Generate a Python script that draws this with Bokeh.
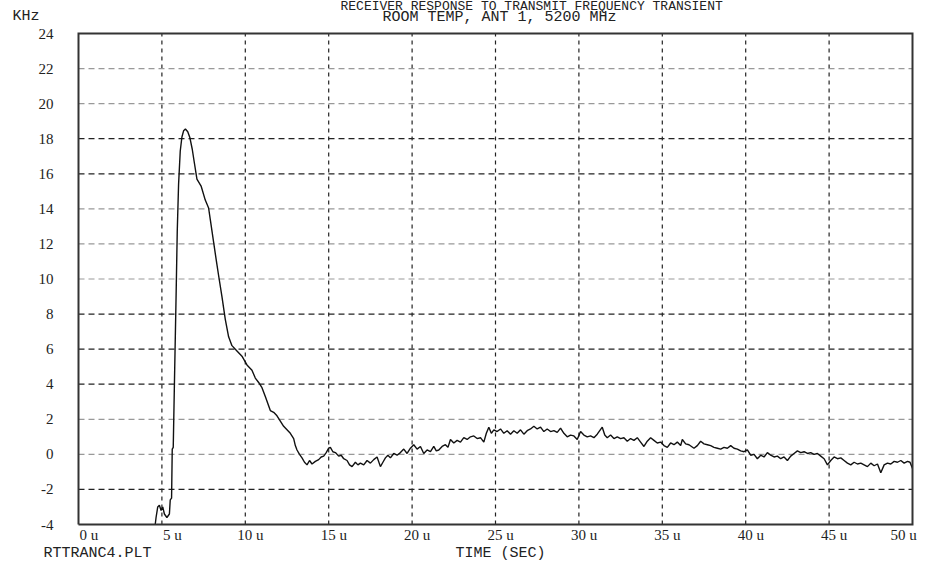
from bokeh.plotting import figure
from bokeh.models import Range1d, Label, LabelSet, ColumnDataSource
from bokeh.embed import file_html
from bokeh.resources import INLINE

# ---- data ----
time_us = [4.6, 4.65, 4.75, 4.85, 4.95, 5.05, 5.15, 5.3, 5.45, 5.5, 5.58, 5.62, 5.68, 5.75, 5.85,
           5.92, 6.0, 6.1, 6.2, 6.3, 6.41, 6.55, 6.68, 6.82, 6.95, 7.1, 7.35, 7.6, 7.8, 7.9, 8.1,
           8.27, 8.4, 8.6, 8.8, 9.0, 9.2, 9.5, 9.8, 10.1, 10.4, 10.6, 10.8, 11.0, 11.2, 11.35, 11.5,
           11.7, 11.9, 12.1, 12.3, 12.5, 12.7, 12.9, 13.0, 13.1, 13.25, 13.4, 13.55, 13.7, 13.85,
           14.0, 14.2, 14.4, 14.55, 14.7, 14.85, 15.0, 15.1, 15.25, 15.4, 15.6, 15.75, 15.9, 16.1,
           16.25, 16.4, 16.6, 16.75, 16.9, 17.1, 17.3, 17.5, 17.7, 17.9, 18.1, 18.25, 18.4, 18.55,
           18.7, 18.9, 19.1, 19.3, 19.5, 19.7, 19.9, 20.1, 20.3, 20.5, 20.7, 20.9, 21.1, 21.3, 21.45,
           21.6, 21.8, 22.0, 22.15, 22.3, 22.5, 22.7, 22.9, 23.1, 23.3, 23.5, 23.7, 23.9, 24.1, 24.3,
           24.45, 24.6, 24.75, 24.9, 25.1, 25.3, 25.5, 25.7, 25.9, 26.1, 26.3, 26.5, 26.7, 26.9,
           27.1, 27.3, 27.5, 27.7, 27.9, 28.1, 28.3, 28.5, 28.7, 28.9, 29.1, 29.3, 29.5, 29.7, 29.9,
           30.1, 30.3, 30.5, 30.7, 30.9, 31.1, 31.4, 31.55, 31.7, 31.9, 32.1, 32.3, 32.5, 32.7, 32.9,
           33.1, 33.3, 33.5, 33.7, 33.9, 34.1, 34.3, 34.5, 34.7, 34.9, 35.1, 35.3, 35.5, 35.7, 35.9,
           36.1, 36.2, 36.4, 36.6, 36.9, 37.1, 37.3, 37.5, 37.7, 37.9, 38.1, 38.3, 38.5, 38.7, 38.9,
           39.1, 39.3, 39.5, 39.7, 39.9, 40.1, 40.3, 40.5, 40.7, 40.9, 41.1, 41.3, 41.5, 41.7, 41.9,
           42.1, 42.3, 42.5, 42.7, 42.9, 43.1, 43.3, 43.5, 43.7, 43.9, 44.1, 44.3, 44.5, 44.7, 44.9,
           45.1, 45.3, 45.5, 45.7, 45.9, 46.1, 46.3, 46.5, 46.7, 46.9, 47.1, 47.3, 47.5, 47.7, 47.9,
           48.1, 48.3, 48.5, 48.7, 48.9, 49.1, 49.3, 49.5, 49.7, 49.85, 50.0]
khz = [-4.0, -3.6, -3.0, -2.9, -3.2, -3.0, -3.4, -3.6, -3.4, -2.6, -2.5, 0.3, 0.4, 4.0, 9.0,
       12.7, 15.4, 17.3, 18.1, 18.45, 18.55, 18.4, 18.05, 17.4, 16.6, 15.7, 15.3, 14.5, 14.05, 13.4, 12.1,
       11.0, 10.2, 9.0, 7.7, 6.7, 6.2, 5.9, 5.6, 5.1, 4.8, 4.35, 4.1, 3.8, 3.3, 2.9, 2.5,
       2.4, 2.2, 1.9, 1.6, 1.4, 1.2, 0.9, 0.5, 0.25, 0.0, -0.2, -0.45, -0.6, -0.35,
       -0.55, -0.4, -0.3, -0.15, -0.1, 0.1, 0.35, 0.4, 0.15, 0.1, -0.1, -0.05, -0.25, -0.35,
       -0.6, -0.7, -0.45, -0.6, -0.5, -0.6, -0.35, -0.5, -0.3, -0.15, -0.7, -0.45, -0.2, -0.05,
       -0.2, 0.05, -0.05, 0.1, 0.3, 0.05, 0.35, 0.55, 0.3, 0.45, 0.05, 0.25, 0.15, 0.45, 0.2,
       0.25, 0.45, 0.55, 0.4, 0.85, 0.65, 0.8, 0.7, 0.95, 0.85, 1.0, 1.05, 0.9, 0.95, 0.7,
       1.2, 1.55, 1.2, 1.4, 1.3, 1.45, 1.2, 1.35, 1.15, 1.35, 1.2, 1.4, 1.15, 1.35,
       1.45, 1.6, 1.45, 1.55, 1.3, 1.45, 1.3, 1.35, 1.25, 1.5, 1.2, 1.0, 1.1, 1.05, 0.85,
       1.3, 1.1, 1.0, 1.05, 0.95, 1.15, 1.55, 1.1, 0.95, 1.1, 0.9, 1.0, 0.9, 0.95, 0.75,
       0.9, 0.8, 0.95, 0.7, 0.45, 0.75, 0.95, 0.8, 0.65, 0.7, 0.5, 0.4, 0.65, 0.55, 0.7,
       0.5, 0.85, 0.6, 0.55, 0.35, 0.5, 0.75, 0.6, 0.55, 0.5, 0.4, 0.35, 0.3, 0.4, 0.35,
       0.5, 0.35, 0.3, 0.2, 0.15, 0.25, -0.05, 0.0, -0.25, -0.05, -0.15, 0.1, -0.05, -0.15, -0.1,
       -0.25, -0.15, -0.35, -0.1, 0.05, 0.2, 0.1, 0.15, 0.05, 0.1, 0.0, 0.05, -0.1, -0.25, -0.6,
       -0.35, -0.15, -0.25, -0.2, -0.35, -0.5, -0.6, -0.45, -0.55, -0.5, -0.6, -0.7, -0.5, -0.65, -0.55,
       -1.05, -0.6, -0.5, -0.55, -0.4, -0.45, -0.35, -0.5, -0.4, -0.45, -0.8]

x_lo, x_hi = 0, 50
y_lo, y_hi = -4, 24
x_ticks = [0, 5, 10, 15, 20, 25, 30, 35, 40, 45, 50]
x_tick_labels = ["0 u", "5 u", "10 u", "15 u", "20 u", "25 u", "30 u", "35 u", "40 u", "45 u", "50 u"]
y_ticks = [-4, -2, 0, 2, 4, 6, 8, 10, 12, 14, 16, 18, 20, 22, 24]
y_tick_labels = ["-4", "-2", "0", "2", "4", "6", "8", "10", "12", "14", "16", "18", "20", "22", "24"]
v_grid = [5, 10, 15, 20, 25, 30, 35, 40, 45]
h_grid_dark = [-2, 4, 6, 8, 16, 18]
h_grid_light = [0, 2, 10, 12, 14, 20, 22]

title_top = "RECEIVER RESPONSE TO TRANSMIT FREQUENCY TRANSIENT"
title_sub = "ROOM TEMP, ANT 1, 5200 MHz"
y_unit = "KHz"
x_title = "TIME (SEC)"
file_name = "RTTRANC4.PLT"

FONT = "Liberation Mono"
FS = "15px"
INK = "#222222"

# canvas and pixel box of the data area
W, H = 926, 563
BOX_L, BOX_R, BOX_T, BOX_B = 78, 912, 33, 524
kx = (BOX_R - BOX_L) / (x_hi - x_lo)
ky = (BOX_B - BOX_T) / (y_hi - y_lo)


def px_x(px):
    return x_lo + (px - BOX_L) / kx


def px_y(py):
    return y_hi - (py - BOX_T) / ky


p = figure(width=W, height=H, output_backend="svg", toolbar_location=None,
           x_range=Range1d(px_x(0), px_x(W)), y_range=Range1d(px_y(H), px_y(0)),
           x_axis_location=None, y_axis_location=None,
           min_border_left=0, min_border_right=0, min_border_top=0, min_border_bottom=0)
p.grid.visible = False
p.outline_line_color = None
p.background_fill_color = "white"
p.border_fill_color = "white"

# grid
p.segment(x0=v_grid, y0=[y_lo] * len(v_grid), x1=v_grid, y1=[y_hi] * len(v_grid),
          line_color=INK, line_dash="4 4", line_width=1.2)
p.segment(x0=[x_lo] * len(h_grid_light), y0=h_grid_light, x1=[x_hi] * len(h_grid_light),
          y1=h_grid_light, line_color="#999999", line_dash="6 4", line_width=1.2)
p.segment(x0=[x_lo] * len(h_grid_dark), y0=h_grid_dark, x1=[x_hi] * len(h_grid_dark),
          y1=h_grid_dark, line_color=INK, line_dash="6 4", line_width=1.2)

# curve
p.line(time_us, khz, line_color="#111111", line_width=1.4)

# data box border
p.line(x=[x_lo, x_hi, x_hi, x_lo, x_lo], y=[y_lo, y_lo, y_hi, y_hi, y_lo],
       line_color="#333333", line_width=2, line_join="miter")

# y tick labels, right edge 25 px left of the box
ysrc = ColumnDataSource(dict(x=[x_lo] * len(y_ticks), y=y_ticks, t=y_tick_labels))
p.add_layout(LabelSet(x="x", y="y", text="t", source=ysrc, x_offset=-25, y_offset=0,
                      text_font=FONT, text_font_size=FS, text_color=INK,
                      text_align="right", text_baseline="middle"))

# x tick labels: number right-justified so its last digit sits at the tick
x_off = []
for i, t in enumerate(x_tick_labels):
    off = 1 if len(t) == 3 else -8
    if i == len(x_tick_labels) - 1:
        off = -22  # kept inside the page
    x_off.append(off)
xsrc = ColumnDataSource(dict(x=x_ticks, y=[px_y(539)] * len(x_ticks), t=x_tick_labels, xo=x_off))
p.add_layout(LabelSet(x="x", y="y", text="t", source=xsrc, x_offset="xo",
                      text_font=FONT, text_font_size=FS, text_color=INK,
                      text_align="left", text_baseline="alphabetic"))


def lab(px, py, text, align="left", size=FS):
    p.add_layout(Label(x=px_x(px), y=px_y(py), text=text,
                       text_font=FONT, text_font_size=size, text_color=INK,
                       text_align=align, text_baseline="alphabetic"))


lab(12, 16, y_unit)
lab(340, 6, title_top, "left", "13px")
lab(499, 17, title_sub, "center")
lab(455, 553, x_title)
lab(43, 553, file_name)

open("out.html", "w").write(file_html(p, INLINE))
